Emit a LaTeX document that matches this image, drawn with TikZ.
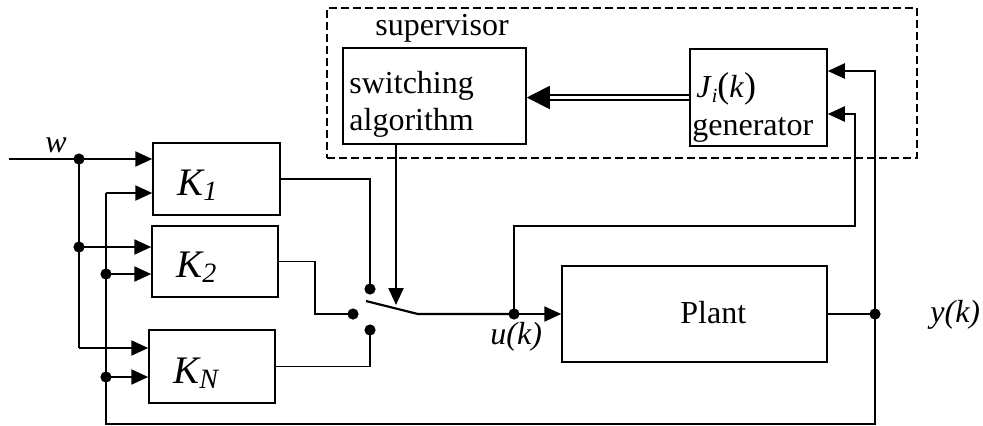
\documentclass[tikz,border=0pt]{standalone}
\usepackage{fontspec}
\setmainfont{Liberation Serif}
\usetikzlibrary{arrows.meta}
\newcommand\ksub[1]{\raisebox{-2.5pt}{\fontsize{14}{14}\selectfont\itshape #1}}
\begin{document}
\begin{tikzpicture}[x=0.5pt,y=-0.5pt,
 box/.style={draw,line width=0.75pt,inner sep=0pt},
 sig/.style={line width=1.1pt},
 thin/.style={line width=0.8pt},
 arr/.style={-{Triangle[length=8.5pt,width=7.5pt]}},
 dot/.style={circle,fill,inner sep=0pt,minimum size=5.6pt},
 txt/.style={inner sep=0pt,anchor=base west,font=\fontsize{16}{19}\selectfont},
 itxt/.style={inner sep=0pt,anchor=base west,font=\fontsize{16}{19}\selectfont\itshape},
 ktxt/.style={inner sep=0pt,anchor=base west,font=\fontsize{19.5}{23}\selectfont\itshape},
 dbl/.style={double,double distance=1.6pt,line width=0.9pt,-{Triangle[length=11.5pt,width=11.5pt]}}]
\useasboundingbox (0,0) rectangle (983,425);

% boxes
\node[box,dash pattern=on 4pt off 2pt,minimum width=295pt,minimum height=75pt] (sup) at (622,83) {};
\node[box,minimum width=91.5pt,minimum height=48pt] (sw) at (434.5,96) {};
\node[box,minimum width=68.5pt,minimum height=48.5pt] (gen) at (758.5,97.5) {};
\node[box,minimum width=63.5pt,minimum height=36pt] (K1) at (216.5,179) {};
\node[box,minimum width=63pt,minimum height=35.5pt] (K2) at (215,261.5) {};
\node[box,minimum width=63pt,minimum height=36.5pt] (KN) at (212,366.5) {};
\node[box,minimum width=132.5pt,minimum height=48pt] (plant) at (694.5,314) {};

% texts
\node[txt] (tsup) at (375,35) {supervisor};
\node[txt] (tsw1) at (349,93) {switching};
\node[txt] (tsw2) at (349,130) {algorithm};
\node[txt] (tj) at (696,97) {\textit{J}\raisebox{-2.5pt}{\fontsize{10}{10}\selectfont\itshape i}{\fontsize{18}{19}\selectfont(}\textit{k}{\fontsize{18}{19}\selectfont)}};
\node[txt] (tgen) at (692,135) {generator};
\node[txt] (tplant) at (680,323) {Plant};
\node[itxt] (tu) at (490,344) {u(k)};
\node[itxt] (ty) at (930,322) {y(k)};
\node[itxt] (tw) at (45,152) {w};
\node[ktxt] (tK1) at (177,195) {K\ksub{1}};
\node[ktxt] (tK2) at (176,277) {K\ksub{2}};
\node[ktxt] (tKN) at (173,383) {K\ksub{N}};

% coordinates
\coordinate (w0) at (9,159);
\coordinate (wj) at (79,159);
\coordinate (w2) at (79,247);
\coordinate (wN) at (79,348);
\coordinate (f1) at (106,193);
\coordinate (f2) at (106,274);
\coordinate (fN) at (106,377);
\coordinate (fb) at (106,424);
\coordinate (c1) at (370,289);
\coordinate (c2) at (353,314);
\coordinate (c3) at (370,330);
\coordinate (sb0) at (366,301);
\coordinate (sb1) at (418,314);
\coordinate (sa) at (396,305);
\coordinate (uj) at (514,314);
\coordinate (ub) at (855,226);
\coordinate (yj) at (875,314);
\coordinate (yb) at (875,424);
\coordinate (yl1) at (0,71);
\coordinate (yl2) at (0,114);

% w distribution
\draw[sig] (w0) -- (wj);
\draw[sig,arr] (wj) -- (wj -| K1.west);
\draw[sig] (wj) -- (wN);
\draw[sig,arr] (w2) -- (w2 -| K2.west);
\draw[sig,arr] (wN) -- (wN -| KN.west);

% feedback
\draw[thin] (yj) -- (yb) -- (fb) -- (f1);
\draw[sig,arr] (f1) -- (f1 -| K1.west);
\draw[sig,arr] (f2) -- (f2 -| K2.west);
\draw[sig,arr] (fN) -- (fN -| KN.west);

% controller outputs to switch
\draw[thin] (K1.east) -| (c1);
\draw[thin] (K2.east) -- ++(36,0) |- (c2);
\draw[thin] (KN.east) -| (c3);

% switch
\draw[sig] (sb0) -- (sb1) -- (uj);
\draw[sig,arr] (uj) -- (plant.west);
\draw[sig,arr] (sa |- sw.south) -- (sa);

% u branch to generator
\draw[sig,arr] (uj) |- (ub) -- (ub |- yl2) -- (gen.east |- yl2);

% y branch
\draw[thin] (plant.east) -- (yj);
\draw[sig,arr] (yj) -- (yj |- yl1) -- (gen.east |- yl1);

% J_i(k) to switching algorithm
\draw[dbl] (gen.west) -- (gen.west -| sw.east);

% dots
\foreach \p in {wj,w2,f2,fN,c1,c2,c3,uj,yj} \node[dot] at (\p) {};
\end{tikzpicture}
\end{document}
